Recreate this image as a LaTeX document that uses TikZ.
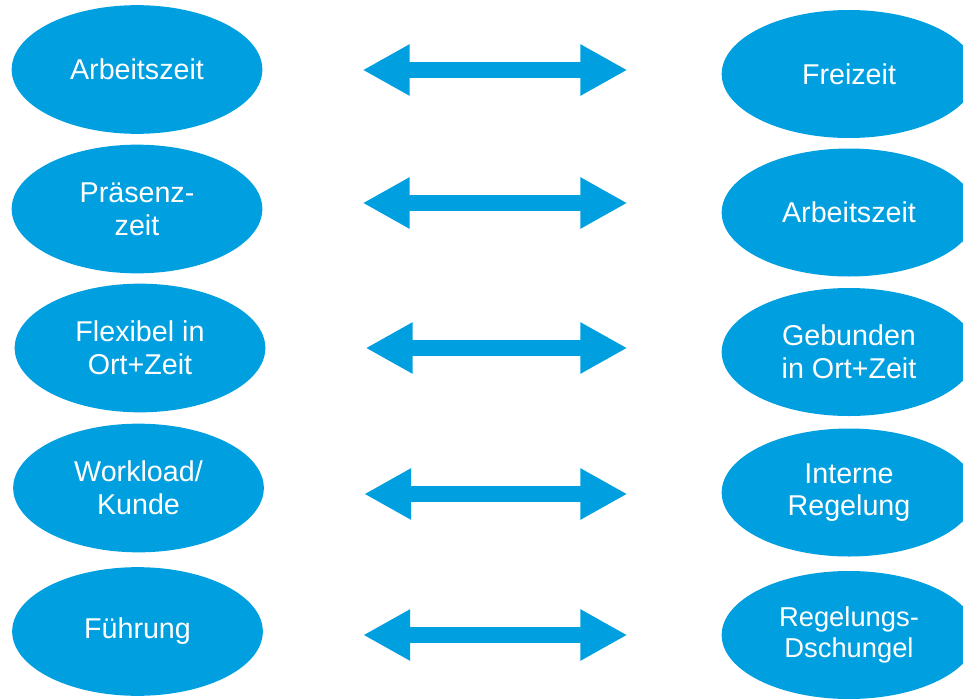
\documentclass[tikz,border=0pt]{standalone}
\usepackage{fontspec}
\setmainfont{Liberation Sans}
\usetikzlibrary{shapes.geometric, arrows.meta}
\definecolor{azul}{HTML}{009FE0}

\begin{document}
\begin{tikzpicture}[
    x=0.75pt,
    y=-0.75pt,
    >={Triangle[length=35.25pt,width=36pt]},
    font=\fontsize{21.5}{24.5}\selectfont,
    campo/.style={ellipse,fill=azul,text=white,align=center,inner sep=0pt,
        minimum width=188pt,minimum height=96.5pt},
    campoder/.style={campo,minimum width=191pt,minimum height=96pt},
    flecha/.style={azul,line width=12.5pt,<->,shorten <=75pt,shorten >=70.5pt}
]
    \clip (0,0) rectangle (963,699);

    % links
    \node[campo] (l1) at (137,69.5) {Arbeitszeit};
    \node[campo] (l2) at (137,209) {Präsenz-\\zeit};
    \node[campo] (l3) at (140,348) {Flexibel in\\Ort+Zeit};
    \node[campo] (l4) at (138.5,488) {Workload/\\Kunde};
    \node[campo] (l5) at (137.5,631.5) {Führung};

    % rechts
    \node[campoder] (r1) at (849,74) {Freizeit};
    \node[campoder] (r2) at (849,212.5) {Arbeitszeit};
    \node[campoder] (r3) at (849,352) {Gebunden\\in Ort+Zeit};
    \node[campoder] (r4) at (849,492.5) {Interne\\Regelung};
    \node[campoder,font=\fontsize{20.5}{23.5}\selectfont] (r5) at (849,635)
        {Regelungs-\\Dschungel};

    % Pfeile
    \foreach \i/\ay in {1/70,2/203,3/348,4/494,5/635}{
        \draw[flecha] (l\i.east |- 0,\ay) -- (r\i.west |- 0,\ay);
    }
\end{tikzpicture}
\end{document}
